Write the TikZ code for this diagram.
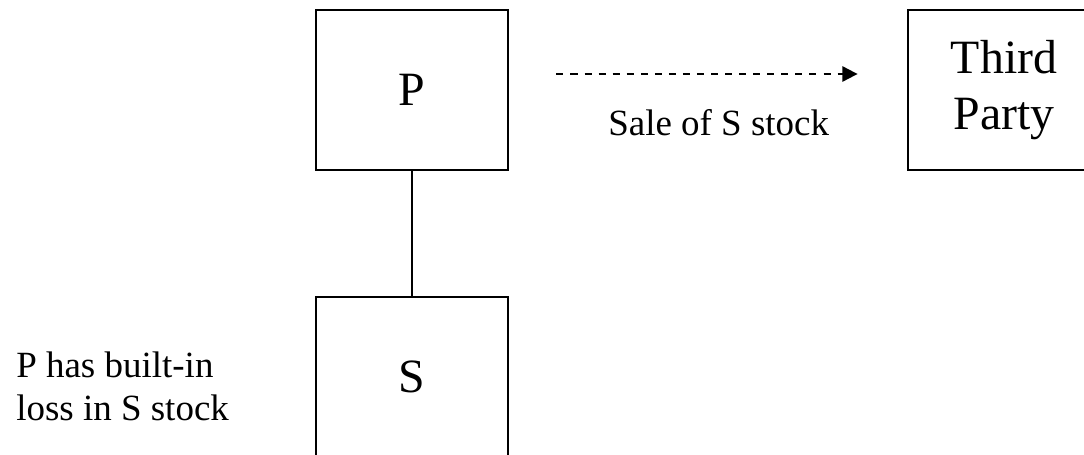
\documentclass[tikz,border=0pt]{standalone}
\usepackage{fontspec}
\setmainfont{Liberation Serif}
\usetikzlibrary{arrows.meta,positioning}

\begin{document}
\begin{tikzpicture}[
    corp/.style={rectangle, draw, line width=2pt, minimum width=4.8cm, minimum height=4cm, align=center, font=\fontsize{34}{40}\selectfont},
    note/.style={font=\fontsize{26.3}{30}\selectfont, inner sep=0pt},
    sale/.style={-{Triangle[length=0.38cm,width=0.38cm]}, line width=1.4pt, dash pattern=on 5pt off 5pt}
]
    \useasboundingbox (0,0) rectangle (27.1,-11.375);

    % Corporations
    \node[corp] (p) at (10.3,-2.25) {P};
    \node[corp] (s) at (10.3,-9.425) {S};
    \node[corp] (third) at (25.1,-2.25) {Third\\Party};

    % Notes
    \node[note, anchor=base west] (salelabel) at (15.2,-3.4) {Sale of S stock};
    \node[note, anchor=base west, align=left] (loss) at (0.4,-10.5) {P has built-in\\loss in S stock};

    % Connections
    \draw[line width=1.5pt] (p) -- (s);
    \draw[sale, shorten <=1.175cm, shorten >=1.225cm] ([yshift=0.4cm]p.east) -- ([yshift=0.4cm]third.west);
\end{tikzpicture}
\end{document}
